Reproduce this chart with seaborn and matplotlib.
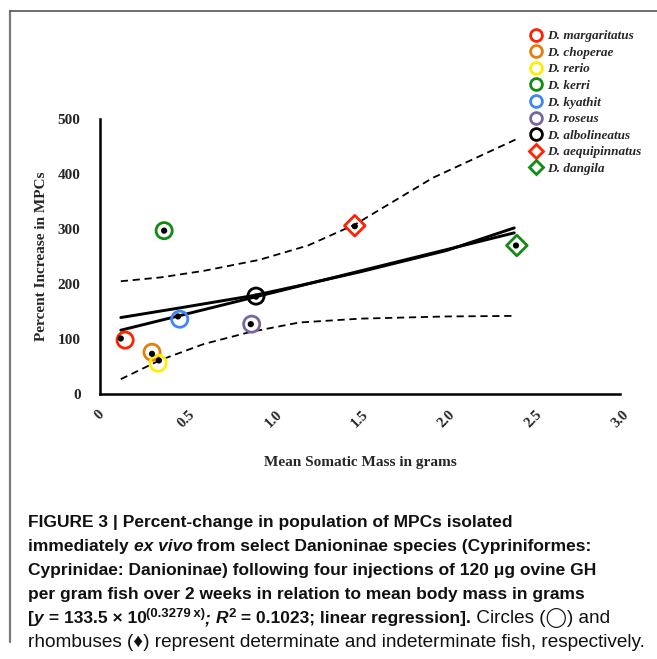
import numpy as np
import pandas as pd
import matplotlib
matplotlib.use('Agg')
import matplotlib.pyplot as plt
from matplotlib import font_manager
from matplotlib.lines import Line2D
import seaborn as sns

# %% dados
species = ['D. margaritatus', 'D. choperae', 'D. rerio', 'D. kerri', 'D. kyathit',
           'D. roseus', 'D. albolineatus', 'D. aequipinnatus', 'D. dangila']
mass = [0.12, 0.30, 0.34, 0.37, 0.45, 0.87, 0.90, 1.47, 2.40]
pct = [101, 73, 61, 297, 141, 127, 177, 305, 270]
# anéis coloridos ficam um pouco deslocados dos pontos pretos
ring_x = [0.145, 0.30, 0.335, 0.37, 0.46, 0.875, 0.90, 1.47, 2.405]
ring_y = [98, 76, 56, 297, 136, 127, 178, 306, 270]
shapes = ['o', 'o', 'o', 'o', 'o', 'o', 'o', 'D', 'D']
colors = ['#FF2200', '#E67E0E', '#FFEE00', '#138A13', '#3F86F7',
          '#7A67A0', '#000000', '#FF2200', '#138A13']

# curvas de ajuste e limites
exp_x = [0.12, 0.45, 0.885, 1.15, 1.5, 2.0, 2.39]
exp_y = [139, 156, 179, 197, 222, 261, 302]
lin_x = [0.12, 2.39]
lin_y = [116, 293]
hi_x = [0.12, 0.35, 0.6, 0.92, 1.2, 1.47, 1.92, 2.40]
hi_y = [205, 212, 224, 244, 270, 308, 393, 463]
lo_x = [0.12, 0.35, 0.6, 0.87, 1.15, 1.5, 2.0, 2.40]
lo_y = [27, 62, 91, 113, 130, 137, 141, 142]

xticks = [0, 0.5, 1.0, 1.5, 2.0, 2.5, 3.0]
xtick_labels = ['0', '0.5', '1.0', '1.5', '2.0', '2.5', '3.0']
yticks = [0, 100, 200, 300, 400, 500]

df = pd.DataFrame({'species': species, 'mass': mass, 'pct': pct,
                   'ring_x': ring_x, 'ring_y': ring_y})

sns.set_style('white')
serif = ['Liberation Serif', 'DejaVu Serif']
names = {f.name for f in font_manager.fontManager.ttflist}
cap_font = 'Liberation Sans Narrow' if 'Liberation Sans Narrow' in names else 'Liberation Sans'
cap_family = [cap_font, 'DejaVu Sans']

W, H = 657, 659
fig = plt.figure(figsize=(W / 100, H / 100), dpi=100)
ax = fig.add_axes([100 / W, 1 - 394 / H, 520 / W, 275 / H])

# linhas tracejadas e curvas
sns.lineplot(x=hi_x, y=hi_y, ax=ax, color='black', lw=1.3, linestyle=(0, (4, 2.6)))
sns.lineplot(x=lo_x, y=lo_y, ax=ax, color='black', lw=1.3, linestyle=(0, (4, 2.6)))
sns.lineplot(x=exp_x, y=exp_y, ax=ax, color='black', lw=2.1)
sns.lineplot(x=lin_x, y=lin_y, ax=ax, color='black', lw=2.1)

# marcadores abertos por espécie
for i, row in df.iterrows():
    size = 135 if shapes[i] == 'o' else 110
    sns.scatterplot(x=[row['ring_x']], y=[row['ring_y']], ax=ax, marker=shapes[i], s=size,
                    facecolors='none', edgecolor=colors[i], linewidth=2.0, clip_on=False, zorder=4)
sns.scatterplot(data=df, x='mass', y='pct', ax=ax, color='black', s=20,
                edgecolor='none', zorder=5, clip_on=False)

ax.set_xlim(0, 3.0)
ax.set_ylim(0, 500)
ax.set_xticks(xticks)
ax.set_xticklabels(xtick_labels, rotation=45, ha='center', va='top',
                   fontfamily=serif, fontweight='bold', fontsize=10.5)
ax.set_yticks(yticks)
ax.set_yticklabels([str(v) for v in yticks], fontfamily=serif, fontweight='bold', fontsize=11)
ax.tick_params(axis='x', direction='out', length=4, width=1.5, pad=6)
ax.tick_params(axis='y', direction='in', length=3, width=1.5, pad=14)
for side in ['top', 'right']:
    ax.spines[side].set_visible(False)
for side in ['left', 'bottom']:
    ax.spines[side].set_linewidth(1.8)
    ax.spines[side].set_color('black')

ax.set_xlabel('Mean Somatic Mass in grams', fontfamily=serif, fontweight='bold',
              fontsize=11, labelpad=19)
ax.set_ylabel('Percent Increase in MPCs', fontfamily=serif, fontweight='bold',
              fontsize=11, labelpad=7)

# legenda
handles = [Line2D([], [], marker=shapes[i], ls='none', mfc='none', mec=colors[i],
                  mew=2.0, ms=8.5 if shapes[i] == 'o' else 7.5) for i in range(len(species))]
fig.legend(handles, species, loc='upper left', bbox_to_anchor=(531 / W, 1 - 30 / H),
           frameon=False, borderpad=0, borderaxespad=0, handlelength=0.8,
           handletextpad=0.45, labelspacing=0.33,
           prop={'family': serif, 'weight': 'bold', 'style': 'italic', 'size': 9.5})

# moldura cinza da página
fig.add_artist(Line2D([10 / W, 10 / W], [1 - 642 / H, 1 - 11 / H], color='#7a7a7a', lw=1.6))
fig.add_artist(Line2D([10 / W, 1.0], [1 - 11 / H, 1 - 11 / H], color='#555555', lw=1.2))

# legenda da figura (texto com trechos em estilos diferentes)
renderer = fig.canvas.get_renderer()


def text_width(txt, size, weight, style):
    t = fig.text(0, 0, txt + '|', fontsize=size, fontweight=weight, fontstyle=style, family=cap_family)
    w1 = t.get_window_extent(renderer=renderer).width
    t.set_text('|')
    w2 = t.get_window_extent(renderer=renderer).width
    t.remove()
    return w1 - w2


def draw_line(x0, base, segs, size_bold, size_norm):
    x = x0
    for txt, weight, style, scale, rise in segs:
        size = (size_bold if weight == 'bold' else size_norm) * scale
        fig.text(x / W, 1 - (base - rise) / H, txt, fontsize=size, fontweight=weight,
                 fontstyle=style, family=cap_family, va='baseline', ha='left', color='#111111')
        x += text_width(txt, size, weight, style)


ref = 'Cyprinidae: Danioninae) following four injections of 120 \u03bcg ovine GH'
last = 'rhombuses (\u2666) represent determinate and indeterminate fish, respectively.'
bold_size = 12.0 * 566 / text_width(ref, 12.0, 'bold', 'normal')
norm_size = 12.0 * 622 / text_width(last, 12.0, 'normal', 'normal')

B, N = 'bold', 'normal'
lines = [
    [('FIGURE 3 | Percent-change in population of MPCs isolated', B, N, 1, 0)],
    [('immediately ', B, N, 1, 0), ('ex vivo', B, 'italic', 1, 0),
     (' from select Danioninae species (Cypriniformes:', B, N, 1, 0)],
    [(ref, B, N, 1, 0)],
    [('per gram fish over 2 weeks in relation to mean body mass in grams', B, N, 1, 0)],
    [('[', B, N, 1, 0), ('y', B, 'italic', 1, 0), (' = 133.5 \u00d7 10', B, N, 1, 0),
     ('(0.3279\u2009x)', B, N, 0.75, 6), ('; ', B, 'italic', 1, 0), ('R', B, 'italic', 1, 0),
     ('2', B, N, 0.75, 6), (' = 0.1023; linear regression].', B, N, 1, 0),
     (' Circles (\u25ef) and', N, N, 1, 0)],
    [(last, N, N, 1, 0)],
]
for k, segs in enumerate(lines):
    draw_line(28, 527 + 24 * k, segs, bold_size, norm_size)

fig.savefig('out.png', dpi=100)
